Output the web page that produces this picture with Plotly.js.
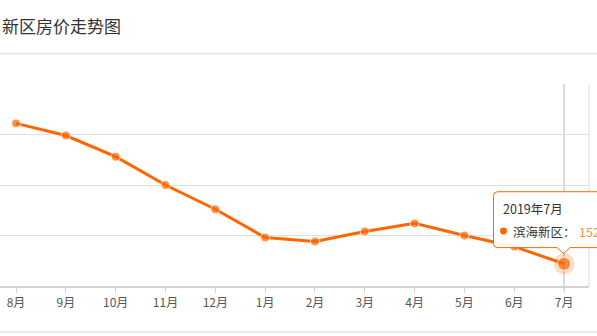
<!DOCTYPE html>
<html>
<head>
<meta charset="utf-8">
<script src="https://cdn.plot.ly/plotly-3.0.1.min.js"></script>
<style>
html,body{margin:0;padding:0;background:#fff;overflow:hidden;}
#chart{width:597px;height:336px;}
</style>
</head>
<body>
<div id="chart"></div>
<script>
// ---- data ----
const chartTitle = '新区房价走势图';
const seriesName = '滨海新区';
const tooltipYear = '2019年';
const months = ['8月','9月','10月','11月','12月','1月','2月','3月','4月','5月','6月','7月'];
const prices = [16610, 16490, 16280, 16000, 15760, 15480, 15440, 15540, 15620, 15500, 15390, 15220];
const yRange = [15000, 17000];
const yStep = 500;

// ---- layout helpers (pixel -> paper) ----
const W = 597, H = 336;
const mL = 0, mR = 8, mT = 83.5, mB = 50;
const pw = W - mL - mR, ph = H - mT - mB;
const px = v => (v - mL) / pw;
const py = v => (H - mB - v) / ph;

const orange = '#ff6600';
const font = '"Noto Sans CJK SC", "Noto Sans", sans-serif';
const last = months.length - 1;

const traces = [
  {
    x: months, y: prices, type: 'scatter', mode: 'lines', hoverinfo: 'skip',
    line: {color: orange, width: 3}, showlegend: false
  },
  {
    x: [months[last]], y: [prices[last]], type: 'scatter', mode: 'markers',
    marker: {size: 21, color: 'rgba(255,102,0,0.22)'}, hoverinfo: 'skip', showlegend: false
  },
  {
    x: months, y: prices, type: 'scatter', mode: 'markers', name: seriesName,
    marker: {color: orange, size: months.map((m, i) => i === last ? 13 : 9)},
    showlegend: false
  }
];

// tooltip box path (pixel coords converted)
const bx0 = 493.5, by0 = 191.5, bx1 = 610, by1 = 247.5, r = 4;
const ax = 563.5, aw = 6.5, ah = 6;
const P = (x, y) => px(x) + ',' + py(y);
const boxPath = 'M' + P(bx0 + r, by0) + ' L' + P(bx1, by0) + ' L' + P(bx1, by1) +
  ' L' + P(ax + aw, by1) + ' L' + P(ax, by1 + ah) + ' L' + P(ax - aw, by1) +
  ' L' + P(bx0 + r, by1) + ' Q' + P(bx0, by1) + ' ' + P(bx0, by1 - r) +
  ' L' + P(bx0, by0 + r) + ' Q' + P(bx0, by0) + ' ' + P(bx0 + r, by0) + ' Z';

const shapes = [
  {type: 'line', xref: 'paper', yref: 'paper', x0: px(0), x1: px(W), y0: py(53), y1: py(53),
   line: {color: '#e2e2e2', width: 1.5}},
  {type: 'line', xref: 'paper', yref: 'paper', x0: px(0), x1: px(W), y0: py(332), y1: py(332),
   line: {color: '#e2e2e2', width: 1.5}},
  {type: 'line', xref: 'paper', yref: 'paper', x0: 1, x1: 1, y0: 0, y1: 1,
   line: {color: '#dcdcdc', width: 1}},
  {type: 'line', xref: 'x', yref: 'paper', x0: last, x1: last, y0: py(291), y1: 1,
   line: {color: '#b8b8b8', width: 1}, layer: 'below'},
  {type: 'path', xref: 'paper', yref: 'paper', path: boxPath, fillcolor: 'rgba(255,255,255,0.97)',
   line: {color: orange, width: 1}, layer: 'above'},
  {type: 'circle', xref: 'paper', yref: 'paper', x0: px(500), x1: px(507), y0: py(227.3), y1: py(234.3),
   fillcolor: orange, line: {width: 0}, layer: 'above'}
];

const annotations = [
  {text: chartTitle, xref: 'paper', yref: 'paper', x: px(0), y: py(25), xanchor: 'left', yanchor: 'middle',
   showarrow: false, font: {family: font, size: 17, color: '#333'}},
  {text: tooltipYear + months[last], xref: 'paper', yref: 'paper', x: px(501), y: py(208), xanchor: 'left', yanchor: 'middle',
   showarrow: false, font: {family: font, size: 12.5, color: '#333'}},
  {text: seriesName + '：', xref: 'paper', yref: 'paper', x: px(510.5), y: py(231), xanchor: 'left', yanchor: 'middle',
   showarrow: false, font: {family: font, size: 12.5, color: '#333'}},
  {text: String(prices[last]), xref: 'paper', yref: 'paper', x: px(576.5), y: py(231), xanchor: 'left', yanchor: 'middle',
   showarrow: false, font: {family: font, size: 12.5, color: '#f0953f'}}
];

const layout = {
  width: W, height: H,
  margin: {l: mL, r: mR, t: mT, b: mB, pad: 0},
  paper_bgcolor: '#fff', plot_bgcolor: '#fff',
  showlegend: false,
  hovermode: false,
  font: {family: font},
  xaxis: {
    type: 'category', categoryorder: 'array', categoryarray: months,
    range: [-0.5 + 8.9 / 49.8, months.length - 0.5],
    showgrid: false, zeroline: false,
    showline: true, linecolor: '#d4d4d4', linewidth: 2,
    ticks: 'outside', ticklen: 5, tickcolor: '#d4d4d4', tickwidth: 1,
    tickfont: {family: font, size: 12, color: '#555'},
    fixedrange: true
  },
  yaxis: {
    range: yRange, dtick: yStep, tick0: yRange[0],
    showticklabels: false, ticks: '',
    showgrid: true, gridcolor: '#e0e0e0', gridwidth: 1,
    zeroline: false, showline: false, fixedrange: true
  },
  shapes: shapes,
  annotations: annotations
};

Plotly.newPlot('chart', traces, layout, {displayModeBar: false, staticPlot: true});
</script>
</body>
</html>
